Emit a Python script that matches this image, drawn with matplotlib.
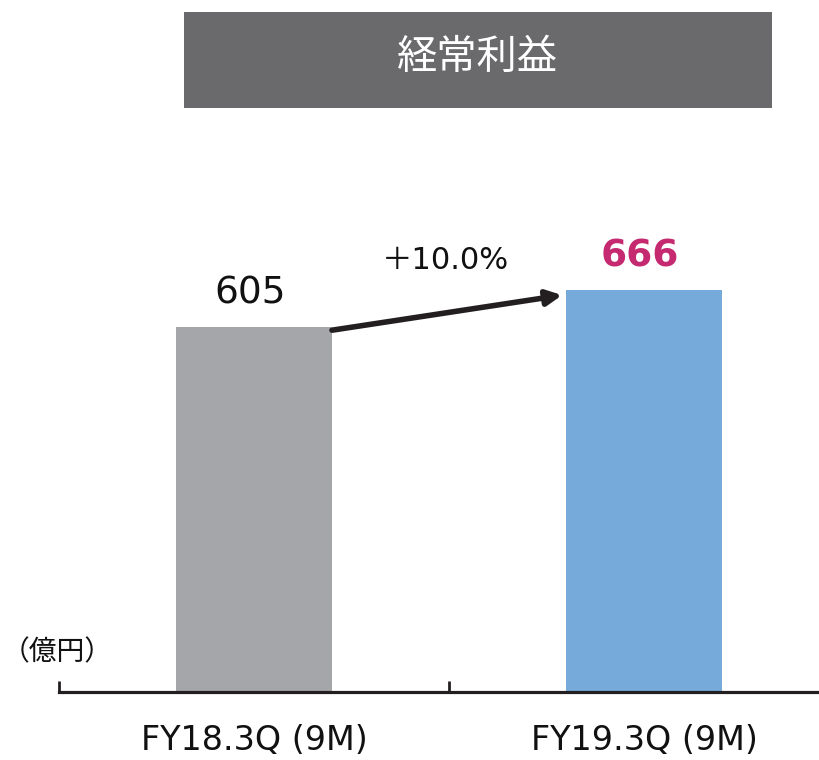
import matplotlib
matplotlib.use("Agg")
import matplotlib.pyplot as plt
from matplotlib.patches import Rectangle

categories = ["FY18.3Q (9M)", "FY19.3Q (9M)"]
values = [605, 666]
value_labels = ["605", "666"]
growth_label = "＋10.0%"
title = "経常利益"
unit_label = "（億円）"

W, H = 820, 760
fig = plt.figure(figsize=(W / 100, H / 100), dpi=100)
fig.patch.set_facecolor("white")

# axes: category -0.5..1.5 spans 780 px starting at x=60, baseline at y=692
ax = fig.add_axes([59 / W, 68 / H, 780 / W, 604 / H])
ax.set_xlim(-0.5, 1.5)
ax.set_ylim(0, 1000)
ax.patch.set_alpha(0)

colors = ["#a5a6a9", "#76aadb"]
ax.bar(range(len(values)), values, width=0.4, color=colors, zorder=2)

for s in ["top", "right", "left"]:
    ax.spines[s].set_visible(False)
ax.spines["bottom"].set_color("#231f20")
ax.spines["bottom"].set_linewidth(2.3)
ax.spines["bottom"].set_zorder(3)
ax.set_yticks([])
ax.set_xticks(range(len(categories)))
ax.set_xticklabels(categories, fontsize=24, family=["DejaVu Sans"], color="#111111")
ax.tick_params(axis="x", which="major", length=0, pad=23)
ax.set_xticks([-0.5, 0.5, 1.5], minor=True)
ax.tick_params(axis="x", which="minor", direction="in", length=8, width=2.0, color="#231f20")

# value labels
ax.text(-0.01, values[0] + 25, value_labels[0], ha="center", va="bottom",
        fontsize=27, color="#111111", family=["DejaVu Sans"])
ax.text(0.99, values[1] + 25, value_labels[1], ha="center", va="bottom",
        fontsize=27, color="#c5296f", fontweight="bold", family=["DejaVu Sans"])

# arrow
ax.annotate("", xy=(0.79, 657), xytext=(0.2, 599),
            arrowprops=dict(arrowstyle="-|>,head_length=0.9,head_width=0.45",
                            lw=4, color="#231f20", shrinkA=0, shrinkB=0))
ax.text(0.49, 715, growth_label, ha="center", va="center", fontsize=22,
        color="#111111", family=["DejaVu Sans", "Noto Sans CJK JP"])

# unit label
fig.text(2 / W, 1 - 652 / H, unit_label, ha="left", va="center", fontsize=20,
         color="#111111", family=["Noto Sans CJK JP"])

# title box
fig.patches.append(Rectangle((184 / W, 1 - 108 / H), 588 / W, 96 / H,
                             transform=fig.transFigure, facecolor="#6a696b",
                             edgecolor="none"))
fig.text(477 / W, 1 - 57 / H, title, ha="center", va="center", fontsize=29,
         color="white", family=["Noto Sans CJK JP"])

fig.savefig("out.png", dpi=100)
